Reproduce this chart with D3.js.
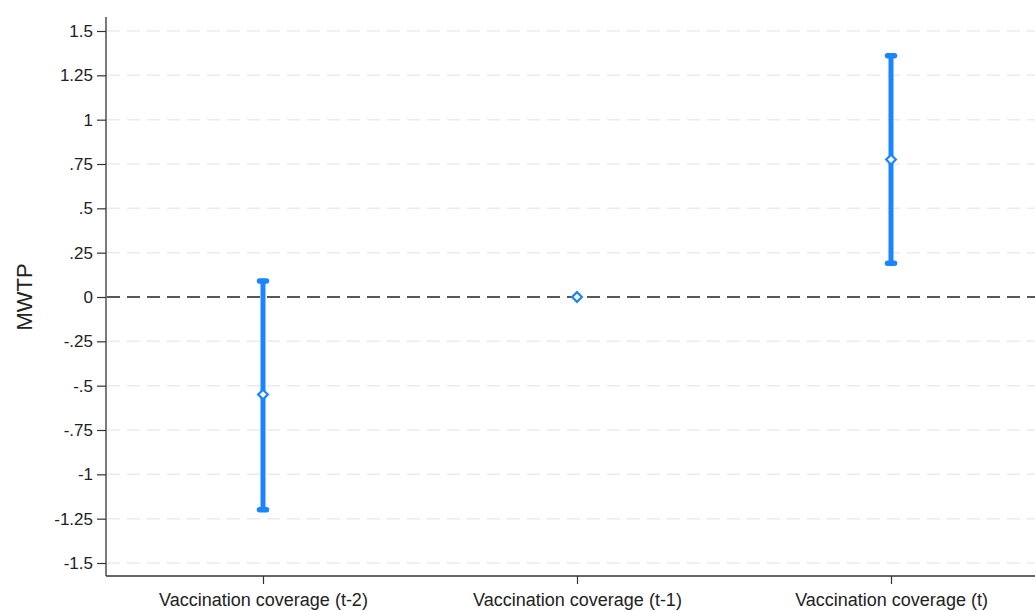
<!DOCTYPE html>
<html lang="en">
<head>
    <meta charset="UTF-8">
    <title>MWTP</title>
    <style>
        body { margin: 0; padding: 0; background: #fff; }
        text { font-family: "Liberation Sans", Arial, sans-serif; fill: #222; }
    </style>
</head>
<body>
    <script src="https://d3js.org/d3.v7.min.js"></script>
    <script>
        // data
        const categories = ['Vaccination coverage (t-2)', 'Vaccination coverage (t-1)', 'Vaccination coverage (t)'];
        const estimates = [-0.55, 0, 0.775];
        const lower = [-1.2, null, 0.19];
        const upper = [0.09, null, 1.36];
        const yTicks = [1.5, 1.25, 1, 0.75, 0.5, 0.25, 0, -0.25, -0.5, -0.75, -1, -1.25, -1.5];

        const width = 1035, height = 611;
        const plotLeft = 106, plotRight = 1035, plotTop = 17, plotBottom = 576;
        const blue = '#1a85ff';

        const svg = d3.select('body').append('svg')
            .attr('width', width)
            .attr('height', height);

        const x = d3.scalePoint().domain(categories).range([263, 891]);
        const y = d3.scaleLinear().domain([-1.5, 1.5]).range([563, 31]);

        const fmt = d => {
            if (d === 0) return '0';
            let s = String(d);
            return s.replace(/^0\./, '.').replace(/^-0\./, '-.');
        };

        // gridlines
        svg.append('g')
            .selectAll('line')
            .data(yTicks.filter(d => d !== 0))
            .join('line')
            .attr('x1', plotLeft + 1).attr('x2', plotRight)
            .attr('y1', d => y(d)).attr('y2', d => y(d))
            .attr('stroke', '#ebebeb')
            .attr('stroke-width', 1.5)
            .attr('stroke-dasharray', '13,7');

        // zero reference line
        svg.append('line')
            .attr('x1', plotLeft + 1).attr('x2', plotRight)
            .attr('y1', y(0)).attr('y2', y(0))
            .attr('stroke', '#222')
            .attr('stroke-width', 1.6)
            .attr('stroke-dasharray', '13,7');

        // y axis
        const yAxis = svg.append('g')
            .attr('transform', `translate(${plotLeft},0)`)
            .call(d3.axisLeft(y).tickValues(yTicks).tickFormat(fmt).tickSize(9).tickPadding(4));
        yAxis.select('.domain').remove();
        yAxis.selectAll('.tick line').attr('stroke', '#333').attr('stroke-width', 1.2);
        yAxis.selectAll('.tick text').attr('font-size', 17).attr('fill', '#222')
            .attr('font-family', '"Liberation Sans", Arial, sans-serif');
        svg.append('line')
            .attr('x1', plotLeft).attr('x2', plotLeft)
            .attr('y1', plotTop).attr('y2', plotBottom)
            .attr('stroke', '#333').attr('stroke-width', 1.3);

        // x axis
        const xAxis = svg.append('g')
            .attr('transform', `translate(0,${plotBottom})`)
            .call(d3.axisBottom(x).tickSize(8).tickPadding(9));
        xAxis.select('.domain').remove();
        xAxis.selectAll('.tick line').attr('stroke', '#333').attr('stroke-width', 1.2);
        xAxis.selectAll('.tick text').attr('font-size', 18).attr('fill', '#222')
            .attr('font-family', '"Liberation Sans", Arial, sans-serif');
        svg.append('line')
            .attr('x1', plotLeft).attr('x2', plotRight)
            .attr('y1', plotBottom).attr('y2', plotBottom)
            .attr('stroke', '#333').attr('stroke-width', 1.3);

        // y title
        svg.append('text')
            .attr('transform', `translate(32,${y(0)}) rotate(-90)`)
            .attr('text-anchor', 'middle')
            .attr('font-size', 22)
            .text('MWTP');

        // confidence intervals
        const rows = categories.map((c, i) => ({ c, est: estimates[i], lo: lower[i], hi: upper[i] }));
        const ci = rows.filter(d => d.lo !== null);
        const g = svg.append('g');
        g.selectAll('line.ci')
            .data(ci)
            .join('line')
            .attr('class', 'ci')
            .attr('x1', d => x(d.c)).attr('x2', d => x(d.c))
            .attr('y1', d => y(d.lo)).attr('y2', d => y(d.hi))
            .attr('stroke', blue).attr('stroke-width', 5);
        ['lo', 'hi'].forEach(k => {
            g.selectAll('line.cap-' + k)
                .data(ci)
                .join('line')
                .attr('class', 'cap-' + k)
                .attr('x1', d => x(d.c) - 3.5).attr('x2', d => x(d.c) + 3.5)
                .attr('y1', d => y(d[k])).attr('y2', d => y(d[k]))
                .attr('stroke', blue).attr('stroke-width', 5.5)
                .attr('stroke-linecap', 'round');
        });

        // point estimates (hollow diamonds)
        g.selectAll('path.pt')
            .data(rows)
            .join('path')
            .attr('class', 'pt')
            .attr('d', d3.symbol().type(d3.symbolDiamond2).size(60))
            .attr('transform', d => `translate(${x(d.c)},${y(d.est)})`)
            .attr('fill', '#fff')
            .attr('stroke', blue)
            .attr('stroke-width', 2.2);
    </script>
</body>
</html>
